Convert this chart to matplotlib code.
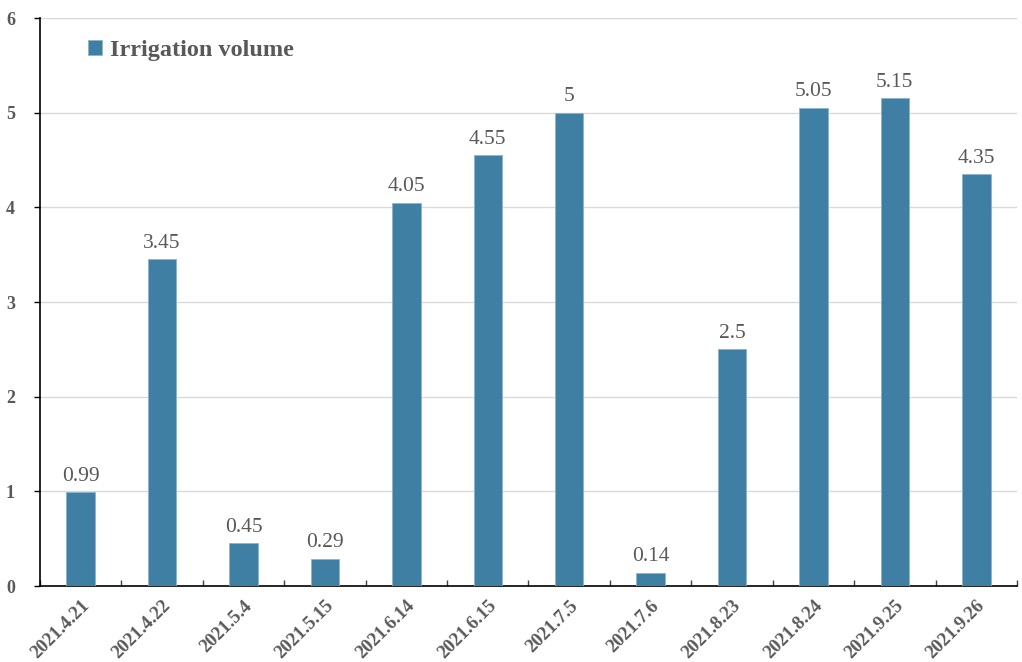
import matplotlib
matplotlib.use("Agg")
import matplotlib.pyplot as plt
import numpy as np

dates = ["2021.4.21", "2021.4.22", "2021.5.4", "2021.5.15", "2021.6.14", "2021.6.15",
         "2021.7.5", "2021.7.6", "2021.8.23", "2021.8.24", "2021.9.25", "2021.9.26"]
irrigation = [0.99, 3.45, 0.45, 0.29, 4.05, 4.55, 5, 0.14, 2.5, 5.05, 5.15, 4.35]
value_labels = ["0.99", "3.45", "0.45", "0.29", "4.05", "4.55", "5", "0.14", "2.5", "5.05", "5.15", "4.35"]
y_ticks = [0, 1, 2, 3, 4, 5, 6]

plt.rcParams["font.family"] = ["Liberation Serif", "DejaVu Serif"]
text_grey = "#595959"
bar_color = "#3F7FA3"

fig = plt.figure(figsize=(10.22, 6.62), dpi=100)
ax = fig.add_axes([0.0391, 0.1148, 0.9560, 0.8580])

x = np.arange(len(dates))
bars = ax.bar(x, irrigation, width=0.35, color=bar_color, edgecolor="#8CB4CC",
              linewidth=0.6, label="Irrigation volume", zorder=3)

for xi, v, lab in zip(x, irrigation, value_labels):
    ax.text(xi, v + 0.07, lab, ha="center", va="bottom", fontsize=15.5,
            color=text_grey, zorder=4)

ax.set_xlim(-0.5, len(dates) - 0.5)
ax.set_ylim(0, 6)
ax.set_yticks(y_ticks)
ax.set_yticklabels([str(t) for t in y_ticks], fontsize=13, fontweight="bold",
                   color=text_grey)
ax.yaxis.grid(True, color="#D9D9D9", linewidth=1.0, zorder=0)
ax.tick_params(axis="y", direction="out", length=4, width=1, color="black", pad=14)

# category boundaries carry the tick marks; labels sit under the bars
ax.set_xticks(np.arange(-0.5, len(dates), 1.0))
ax.set_xticklabels([])
ax.tick_params(axis="x", which="major", direction="in", length=4, width=1, color="#404040")
ax.set_xticks(x, minor=True)
ax.set_xticklabels(dates, minor=True, rotation=45, ha="right", rotation_mode="anchor",
                   fontsize=13.5, fontweight="bold", color=text_grey)
ax.tick_params(axis="x", which="minor", length=0, pad=8)

for side in ["top", "right"]:
    ax.spines[side].set_visible(False)
ax.spines["left"].set_color("black")
ax.spines["bottom"].set_color("black")
ax.spines["left"].set_linewidth(1.2)
ax.spines["bottom"].set_linewidth(1.2)

leg = ax.legend(loc="upper left", bbox_to_anchor=(0.027, 1.0), frameon=False,
                prop={"size": 17.5, "weight": "bold"}, handlelength=0.55,
                handleheight=0.55, handletextpad=0.35, labelcolor=text_grey)

fig.savefig("out.png", dpi=100)
